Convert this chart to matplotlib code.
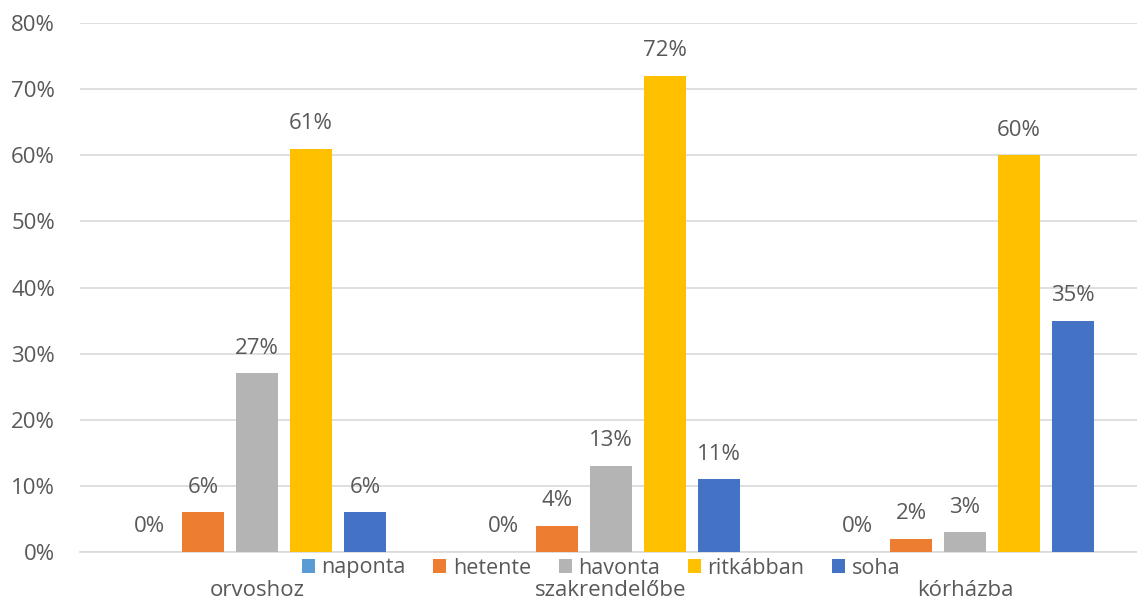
import numpy as np
import matplotlib.pyplot as plt
from matplotlib.ticker import PercentFormatter

plt.rcParams['font.family'] = ['Open Sans', 'DejaVu Sans']

categories = ['orvoshoz', 'szakrendelőbe', 'kórházba']
series = ['naponta', 'hetente', 'havonta', 'ritkábban', 'soha']
values = {
    'naponta':   [0, 0, 0],
    'hetente':   [6, 4, 2],
    'havonta':   [27, 13, 3],
    'ritkábban': [61, 72, 60],
    'soha':      [6, 11, 35],
}
colors = ['#5B9BD5', '#ED7D31', '#B4B4B4', '#FFC000', '#4472C4']
text_col = '#595959'

fig = plt.figure(figsize=(11.37, 6), dpi=100)
ax = fig.add_axes([80 / 1137, 48 / 600, 1062 / 1137, 529 / 600])

x = np.arange(len(categories))
slot = 0.1525
width = 0.121
for i, (name, col) in enumerate(zip(series, colors)):
    pos = x + (i - 2) * slot
    bars = ax.bar(pos, values[name], width=width, color=col, label=name, zorder=3)
    for b, v in zip(bars, values[name]):
        ax.text(b.get_x() + b.get_width() / 2, v + 2.2, f'{v}%',
                ha='center', va='bottom', fontsize=16, color=text_col)

ax.set_xlim(-0.5, 2.5)
ax.set_ylim(0, 80)
ax.set_yticks(range(0, 81, 10))
ax.yaxis.set_major_formatter(PercentFormatter(decimals=0))
ax.grid(axis='y', color='#D9D9D9', linewidth=1.2, zorder=0)
for s in ['top', 'right', 'left']:
    ax.spines[s].set_visible(False)
ax.spines['bottom'].set_color('#D9D9D9')
ax.spines['bottom'].set_linewidth(1.2)
ax.set_xticks(x)
ax.set_xticklabels(categories)
ax.tick_params(axis='x', length=0, pad=20, labelsize=16, labelcolor=text_col)
ax.tick_params(axis='y', length=0, pad=18, labelsize=16, labelcolor=text_col)

fig.legend(loc='center', bbox_to_anchor=(601 / 1137, 1 - 568 / 600), ncol=5,
           frameon=False, fontsize=15.5, handlelength=0.6, handleheight=0.6,
           handletextpad=0.3, columnspacing=1.3, labelcolor=text_col,
           borderpad=0)

fig.savefig('out.png', dpi=100)
